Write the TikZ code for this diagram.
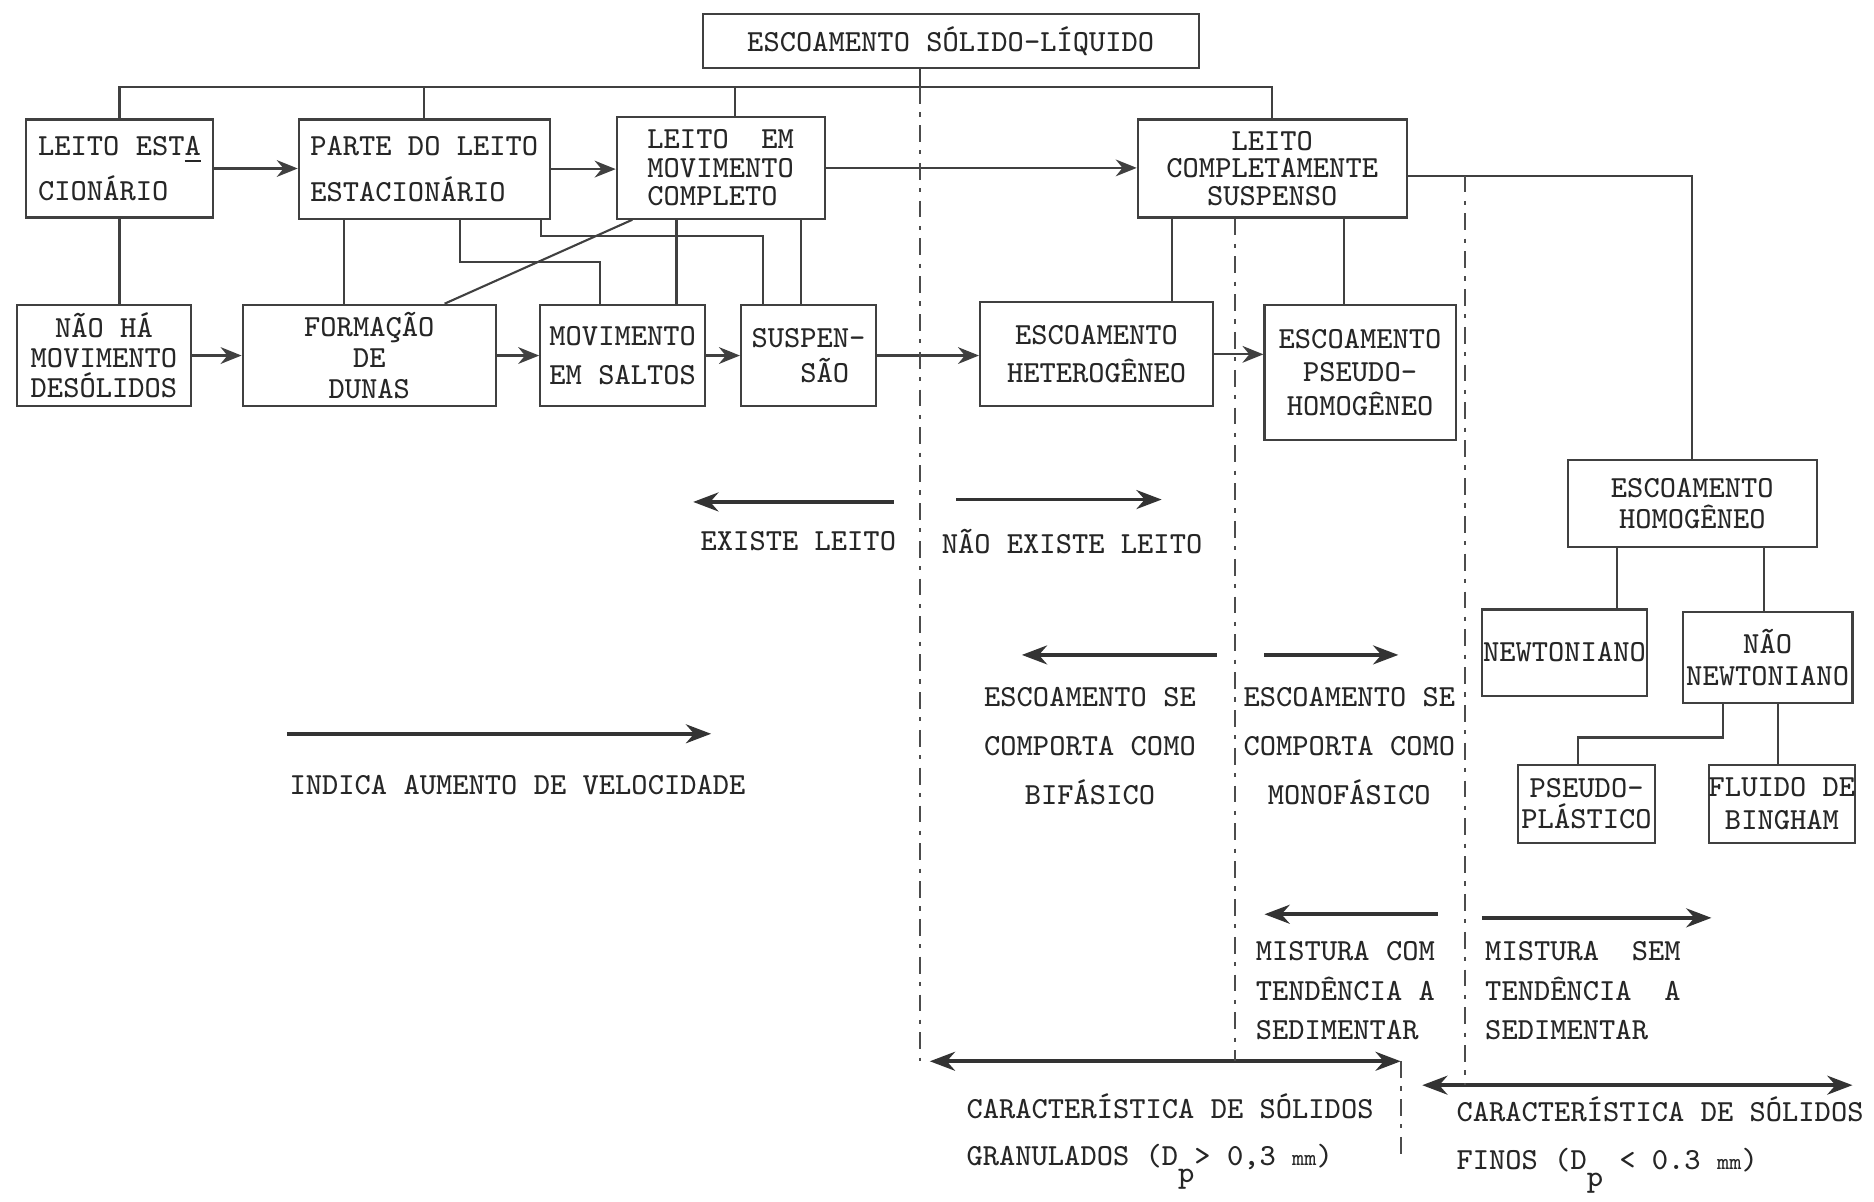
\documentclass[tikz,border=0pt]{standalone}
\usepackage{tikz}
\usetikzlibrary{calc,arrows.meta}
\def\quadro[#1](#2)(#3,#4)(#5,#6)#7{\node[caixa,#1,minimum width={(#5-#3)*0.1mm},minimum height={(#6-#4)*0.1mm}] (#2) at ({(#3+#5)/2},{(#4+#6)/2}) {#7};}
\def\indp{\raisebox{-1.3ex}{p}}
\def\mili{{\fontsize{5.5}{6}\selectfont mm}}
\tikzset{
	ponta/.tip={Stealth[length=6pt,width=4.5pt]},
	pontinha/.tip={Stealth[length=5pt,width=4pt]},
	linhas/.style={font=\ttfamily\fontsize{7.3}{#1}\selectfont},
	linhas/.default=9pt,
	caixa/.style={draw=black!75, line width=0.5pt, inner sep=0pt, align=center, text=black!85, linhas},
	liga/.style={draw=black!75, line width=0.5pt},
	seta/.style={liga, -pontinha},
	faixa/.style={draw=black!80, line width=0.9pt},
	divisa/.style={draw=black!70, line width=0.5pt, dash pattern=on 4pt off 2pt on 1pt off 2pt},
	rotulo/.style={inner sep=0pt, align=center, text=black!85, linhas},
}

\begin{document}
\begin{tikzpicture}[x=0.1mm,y=-0.1mm]
		\useasboundingbox (0,0) rectangle (1568,1005);
		%%%%% CAIXAS %%%%%
		\quadro[](topo)(588,12)(1003,57){ESCOAMENTO SÓLIDO-LÍQUIDO}
		
		\quadro[linhas=10.8pt,align=left](leitoesta)(22,100)(178,182){LEITO EST\underline{A}\\CIONÁRIO}
		\quadro[linhas=10.8pt,align=left](parte)(250,100)(460,183){PARTE DO LEITO\\ESTACIONÁRIO}
		\quadro[linhas=6.8pt,align=left](leitoem)(516,98)(690,183){LEITO\ \ EM\\MOVIMENTO\\COMPLETO}
		\quadro[linhas=6.5pt](leitocompl)(952,100)(1177,182){LEITO\\COMPLETAMENTE\\SUSPENSO}
		
		\quadro[linhas=7.1pt](naoha)(14,255)(160,340){NÃO HÁ\\MOVIMENTO\\DESÓLIDOS}
		\quadro[linhas=7.4pt](formacao)(203,255)(415,340){FORMAÇÃO\\DE\\DUNAS}
		\quadro[linhas=9.1pt](movsaltos)(452,255)(590,340){MOVIMENTO\\EM SALTOS}
		\quadro[linhas=8.3pt,align=left](suspensao)(620,255)(733,340){SUSPEN-\\\phantom{SUS}SÃO}
		\quadro[linhas=9.1pt](hetero)(820,253)(1015,340){ESCOAMENTO\\HETEROGÊNEO}
		\quadro[linhas=8pt](pseudo)(1058,255)(1218,368){ESCOAMENTO\\PSEUDO-\\HOMOGÊNEO}
		
		\quadro[linhas=7.4pt](homog)(1312,385)(1520,458){ESCOAMENTO\\HOMOGÊNEO}
		\quadro[](newton)(1240,510)(1378,582){NEWTONIANO}
		\quadro[linhas=7.7pt](naonewton)(1408,512)(1550,588){NÃO\\NEWTONIANO}
		\quadro[linhas=7.4pt](pseudopl)(1270,640)(1385,705){PSEUDO-\\PLÁSTICO}
		\quadro[linhas=7.9pt](bingham)(1430,640)(1552,705){FLUIDO DE\\BINGHAM}
		
		%%%%% LIGACOES %%%%%
		\coordinate (barra) at (770,73);
		\draw[liga] (topo.south -| barra) -- (barra);
		\draw[liga] (leitoesta.north) |- (barra) -| (leitocompl.north);
		\draw[liga] (parte.north) -- (parte.north |- barra);
		\draw[liga] ($(leitoem.north)+(12,0)$) |- (barra);
		
		\draw[seta] (leitoesta.east) -- (leitoesta.east -| parte.west);
		\draw[seta] (parte.east) -- (parte.east -| leitoem.west);
		\draw[seta] (leitoem.east) -- (leitoem.east -| leitocompl.west);
		\draw[seta] (naoha.east) -- (naoha.east -| formacao.west);
		\draw[seta] (formacao.east) -- (formacao.east -| movsaltos.west);
		\draw[seta] (movsaltos.east) -- (movsaltos.east -| suspensao.west);
		\draw[seta] (suspensao.east) -- (suspensao.east -| hetero.west);
		\draw[seta] (hetero.east) -- (hetero.east -| pseudo.west);
		
		\draw[liga] (leitoesta.south) -- (leitoesta.south |- naoha.north);
		\coordinate (pa) at ($(parte.south)+(-67,0)$);
		\draw[liga] (pa) -- (pa |- formacao.north);
		\draw[liga] ($(parte.south)+(30,0)$) |- ($(movsaltos.north)+(-19,-35)$) -- ($(movsaltos.north)+(-19,0)$);
		\draw[liga] ($(parte.south east)+(-8,0)$) |- ($(suspensao.north)+(-38,-57)$) -- ($(suspensao.north)+(-38,0)$);
		\coordinate (la) at ($(leitoem.south)+(-37,0)$);
		\coordinate (lb) at ($(leitoem.south)+(67,0)$);
		\draw[liga] (la) -- (la |- movsaltos.north);
		\draw[liga] (lb) -- (lb |- suspensao.north);
		\draw[liga] ($(leitoem.south west)+(14,0)$) -- ($(formacao.north)+(63,0)$);
		
		\coordinate (ca) at ($(leitocompl.south)+(-84,0)$);
		\coordinate (cb) at ($(leitocompl.south)+(60,0)$);
		\coordinate (cc) at ($(leitocompl.east)+(0,6)$);
		\draw[liga] (ca) -- (ca |- hetero.north);
		\draw[liga] (cb) -- (cb |- pseudo.north);
		\draw[liga] (cc) -| (homog.north);
		
		\coordinate (ha) at ($(homog.south)+(-63,0)$);
		\coordinate (hb) at ($(homog.south)+(60,0)$);
		\coordinate (nb) at ($(naonewton.south)+(9,0)$);
		\draw[liga] (ha) -- (ha |- newton.north);
		\draw[liga] (hb) -- (hb |- naonewton.north);
		\draw[liga] ($(naonewton.south)+(-37,0)$) |- ($(pseudopl.north)+(-7,-22)$) -- ($(pseudopl.north)+(-7,0)$);
		\draw[liga] (nb) -- (nb |- bingham.north);
		
		%%%%% INDICACOES %%%%%
		\node[rotulo] (existe) at (668,453) {EXISTE LEITO};
		\node[rotulo] (naoexiste) at (897,453) {NÃO EXISTE LEITO};
		\node[rotulo,linhas=11.7pt] (bifasico) at (912,624) {ESCOAMENTO SE\\COMPORTA COMO\\BIFÁSICO};
		\node[rotulo,linhas=11.7pt] (monofasico) at (1129,624) {ESCOAMENTO SE\\COMPORTA COMO\\MONOFÁSICO};
		\node[rotulo] (indica) at (433,657) {INDICA AUMENTO DE VELOCIDADE};
		\node[rotulo,linhas=9.4pt,align=left,anchor=west] (comsed) at (1050,829) {MISTURA COM\\TENDÊNCIA A\\SEDIMENTAR};
		\node[rotulo,linhas=9.4pt,align=left,anchor=west] (semsed) at (1242,829) {MISTURA\ \ SEM\\TENDÊNCIA\ \ A\\SEDIMENTAR};
		\node[rotulo,linhas=11.1pt,align=left,anchor=west] (granulados) at (808,955) {CARACTERÍSTICA DE SÓLIDOS\\GRANULADOS (D\indp> 0,3 \mili)};
		\node[rotulo,linhas=11.4pt,align=left,anchor=west] (finos) at (1218,958) {CARACTERÍSTICA DE SÓLIDOS\\FINOS (D\indp{} < 0.3 \mili)};
		
		\coordinate (e1) at (748,420); \coordinate (e2) at (580,420);
		\coordinate (n1) at (800,418); \coordinate (n2) at (972,418);
		\coordinate (b1) at (1018,548); \coordinate (b2) at (855,548);
		\coordinate (m1) at (1058,548); \coordinate (m2) at (1170,548);
		\coordinate (v1) at (240,614); \coordinate (v2) at (595,614);
		\coordinate (s1) at (1203,765); \coordinate (s2) at (1058,765);
		\coordinate (t1) at (1240,768); \coordinate (t2) at (1432,768);
		\coordinate (g1) at (778,888); \coordinate (g2) at (1172,888);
		\coordinate (f1) at (1190,908); \coordinate (f2) at (1550,908);
		\draw[faixa,-ponta] (e1) -- (e2);
		\draw[faixa,-ponta] (n1) -- (n2);
		\draw[faixa,-ponta] (b1) -- (b2);
		\draw[faixa,-ponta] (m1) -- (m2);
		\draw[faixa,-ponta] (v1) -- (v2);
		\draw[faixa,-ponta] (s1) -- (s2);
		\draw[faixa,-ponta] (t1) -- (t2);
		\draw[faixa,ponta-ponta] (g1) -- (g2);
		\draw[faixa,ponta-ponta] (f1) -- (f2);
		
		%%%%% DIVISAS %%%%%
		\coordinate (da) at ($(leitocompl.south)+(-31,0)$);
		\coordinate (db) at ($(cc)+(48,0)$);
		\draw[divisa] (barra) -- (barra |- g1);
		\draw[divisa] (da) -- (da |- g1);
		\draw[divisa] (db) -- (db |- f1);
		\draw[divisa] (g2) -- ++(0,82);
	\end{tikzpicture}
\end{document}
